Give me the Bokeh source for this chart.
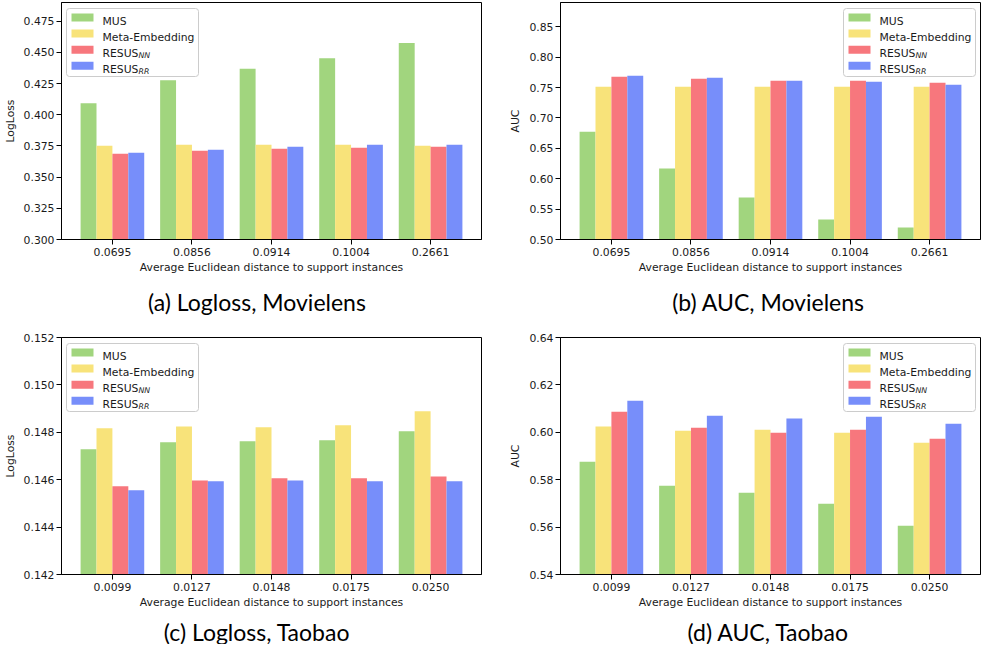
from bokeh.plotting import figure
from bokeh.models import (ColumnDataSource, FixedTicker, BoxAnnotation, Label,
                          Range1d, PrintfTickFormatter)
from bokeh.transform import dodge
from bokeh.layouts import gridplot
from bokeh.embed import file_html
from bokeh.resources import INLINE

# ---------------- data ----------------
group_idx = [0, 1, 2, 3, 4]
ml_distances = ["0.0695", "0.0856", "0.0914", "0.1004", "0.2661"]
tb_distances = ["0.0099", "0.0127", "0.0148", "0.0175", "0.0250"]

series_names = ["MUS", "Meta-Embedding", "RESUS", "RESUS"]
series_subs = ["", "", "NN", "RR"]
series_colors = ["#a1d57e", "#f8e37a", "#f7777d", "#778efa"]

ml_logloss_mus = [0.4093, 0.4277, 0.4368, 0.4453, 0.4576]
ml_logloss_meta = [0.3751, 0.3759, 0.3759, 0.3759, 0.3751]
ml_logloss_nn = [0.3687, 0.3711, 0.3727, 0.3735, 0.3743]
ml_logloss_rr = [0.3695, 0.3719, 0.3743, 0.3759, 0.3759]

ml_auc_mus = [0.6775, 0.6167, 0.5690, 0.5329, 0.5197]
ml_auc_meta = [0.7514, 0.7514, 0.7514, 0.7514, 0.7514]
ml_auc_nn = [0.7678, 0.7646, 0.7613, 0.7613, 0.7580]
ml_auc_rr = [0.7695, 0.7662, 0.7613, 0.7596, 0.7547]

tb_logloss_mus = [0.14728, 0.14758, 0.14762, 0.14766, 0.14804]
tb_logloss_meta = [0.14817, 0.14825, 0.14821, 0.14830, 0.14889]
tb_logloss_nn = [0.14572, 0.14597, 0.14606, 0.14606, 0.14614]
tb_logloss_rr = [0.14555, 0.14593, 0.14597, 0.14593, 0.14593]

tb_auc_mus = [0.5876, 0.5775, 0.5745, 0.5699, 0.5606]
tb_auc_meta = [0.6024, 0.6007, 0.6011, 0.5998, 0.5956]
tb_auc_nn = [0.6087, 0.6019, 0.5998, 0.6011, 0.5973]
tb_auc_rr = [0.6133, 0.6070, 0.6058, 0.6066, 0.6036]

ml_logloss_ticks = [0.300, 0.325, 0.350, 0.375, 0.400, 0.425, 0.450, 0.475]
ml_auc_ticks = [0.50, 0.55, 0.60, 0.65, 0.70, 0.75, 0.80, 0.85]
tb_logloss_ticks = [0.142, 0.144, 0.146, 0.148, 0.150, 0.152]
tb_auc_ticks = [0.54, 0.56, 0.58, 0.60, 0.62, 0.64]

captions = ["(a) Logloss, Movielens", "(b) AUC, Movielens",
            "(c) Logloss, Taobao", "(d) AUC, Taobao"]
x_title = "Average Euclidean distance to support instances"

TEXT = "#1a1a1a"
FONT = "DejaVu Sans"
FS = "10.8px"
FW, FH = 420, 237
LEFT_BORDERS = [53, 67]
RIGHT_BORDERS = [12, 4]
CAP_DX = [-14.5, -2]


def add_legend(p, fw, fh, right):
    bw, bh = 132, 68
    bx = fw - 5 - bw if right else 5
    top = fh - 6
    p.add_layout(BoxAnnotation(left=bx, right=bx + bw, top=top, bottom=top - bh,
                               left_units="screen", right_units="screen",
                               top_units="screen", bottom_units="screen",
                               fill_color="white", fill_alpha=0.8,
                               line_color="#cccccc", line_alpha=1.0, line_width=1,
                               border_radius=3))
    for k in range(4):
        cy = top - 9 - 16.1 * k
        p.add_layout(BoxAnnotation(left=bx + 5, right=bx + 27, top=cy + 4, bottom=cy - 4,
                                   left_units="screen", right_units="screen",
                                   top_units="screen", bottom_units="screen",
                                   fill_color=series_colors[k], fill_alpha=1.0,
                                   line_color=None, line_alpha=0))
        p.add_layout(Label(x=bx + 36, y=cy - 4, x_units="screen", y_units="screen",
                           text=series_names[k], text_font=FONT, text_font_size=FS,
                           text_color=TEXT, text_baseline="alphabetic", text_align="left"))
        if series_subs[k]:
            p.add_layout(Label(x=bx + 36 + 36, y=cy - 5.5, x_units="screen", y_units="screen",
                               text=series_subs[k], text_font=FONT, text_font_size="7.8px",
                               text_font_style="italic", text_color=TEXT,
                               text_baseline="alphabetic", text_align="left"))


def panel(col, ylabel, xlabels, yticks, yfmt, y0, y1, vals, bt, bb):
    src = ColumnDataSource(dict(x=group_idx, mus=vals[0], meta=vals[1], nn=vals[2], rr=vals[3]))
    p = figure(frame_width=FW, frame_height=FH,
               min_border_left=LEFT_BORDERS[col], min_border_right=RIGHT_BORDERS[col],
               min_border_top=bt, min_border_bottom=bb,
               x_range=Range1d(-0.64, 4.64), y_range=Range1d(y0, y1),
               output_backend="svg", toolbar_location=None)
    offsets = [-0.3, -0.1, 0.1, 0.3]
    cols = ["mus", "meta", "nn", "rr"]
    for off, c, color in zip(offsets, cols, series_colors):
        p.vbar(x=dodge("x", off), top=c, bottom=y0, width=0.2, source=src,
               fill_color=color, line_color=None)

    p.xgrid.visible = False
    p.ygrid.visible = False
    p.outline_line_color = "black"
    p.outline_line_width = 1
    p.background_fill_color = "white"
    p.border_fill_color = "white"

    for ax in (p.xaxis[0], p.yaxis[0]):
        ax.axis_line_color = "black"
        ax.major_tick_line_color = "black"
        ax.minor_tick_line_color = None
        ax.major_tick_in = 0
        ax.major_tick_out = 5
        ax.major_label_text_font = FONT
        ax.major_label_text_font_size = FS
        ax.major_label_text_color = TEXT
        ax.axis_label_text_font = FONT
        ax.axis_label_text_font_size = FS
        ax.axis_label_text_font_style = "normal"
        ax.axis_label_text_color = TEXT

    p.xaxis.ticker = FixedTicker(ticks=group_idx)
    p.xaxis.major_label_overrides = {i: s for i, s in zip(group_idx, xlabels)}
    p.xaxis.axis_label = x_title
    p.xaxis.major_label_standoff = 3
    p.xaxis.axis_label_standoff = 2

    p.yaxis.ticker = FixedTicker(ticks=yticks)
    p.yaxis.formatter = PrintfTickFormatter(format=yfmt)
    p.yaxis.axis_label = ylabel
    p.yaxis.major_label_standoff = 2
    p.yaxis.axis_label_standoff = 4

    add_legend(p, FW, FH, col == 1)
    return p


def caption_fig(col, text, height, baseline_from_top):
    w = LEFT_BORDERS[col] + FW + RIGHT_BORDERS[col]
    c = figure(width=w, height=height, min_border=0, min_border_left=0, min_border_right=0,
               min_border_top=0, min_border_bottom=0,
               x_range=Range1d(0, 1), y_range=Range1d(0, 1),
               x_axis_type=None, y_axis_type=None,
               output_backend="svg", toolbar_location=None)
    c.outline_line_color = None
    c.xgrid.visible = False
    c.ygrid.visible = False
    # frames in a grid column are aligned, so x is relative to the plot frame
    c.add_layout(Label(x=FW / 2 + CAP_DX[col], y=height - baseline_from_top,
                       x_units="screen", y_units="screen",
                       text=text, text_font="Lato", text_font_size="23px",
                       text_color="black", text_align="center", text_baseline="alphabetic"))
    return c


pa = panel(0, "LogLoss", ml_distances, ml_logloss_ticks, "%.3f", 0.30, 0.49,
           [ml_logloss_mus, ml_logloss_meta, ml_logloss_nn, ml_logloss_rr], 2, 40)
pb = panel(1, "AUC", ml_distances, ml_auc_ticks, "%.2f", 0.50, 0.89,
           [ml_auc_mus, ml_auc_meta, ml_auc_nn, ml_auc_rr], 2, 40)
pc = panel(0, "LogLoss", tb_distances, tb_logloss_ticks, "%.3f", 0.142, 0.152,
           [tb_logloss_mus, tb_logloss_meta, tb_logloss_nn, tb_logloss_rr], 8, 41)
pd_ = panel(1, "AUC", tb_distances, tb_auc_ticks, "%.2f", 0.54, 0.64,
            [tb_auc_mus, tb_auc_meta, tb_auc_nn, tb_auc_rr], 8, 41)

ca = caption_fig(0, captions[0], 50, 22)
cb = caption_fig(1, captions[1], 50, 22)
cc = caption_fig(0, captions[2], 29, 16)
cd = caption_fig(1, captions[3], 29, 16)

grid = gridplot([[pa, pb], [ca, cb], [pc, pd_], [cc, cd]], toolbar_location=None)

open("out.html", "w").write(file_html(grid, INLINE))
